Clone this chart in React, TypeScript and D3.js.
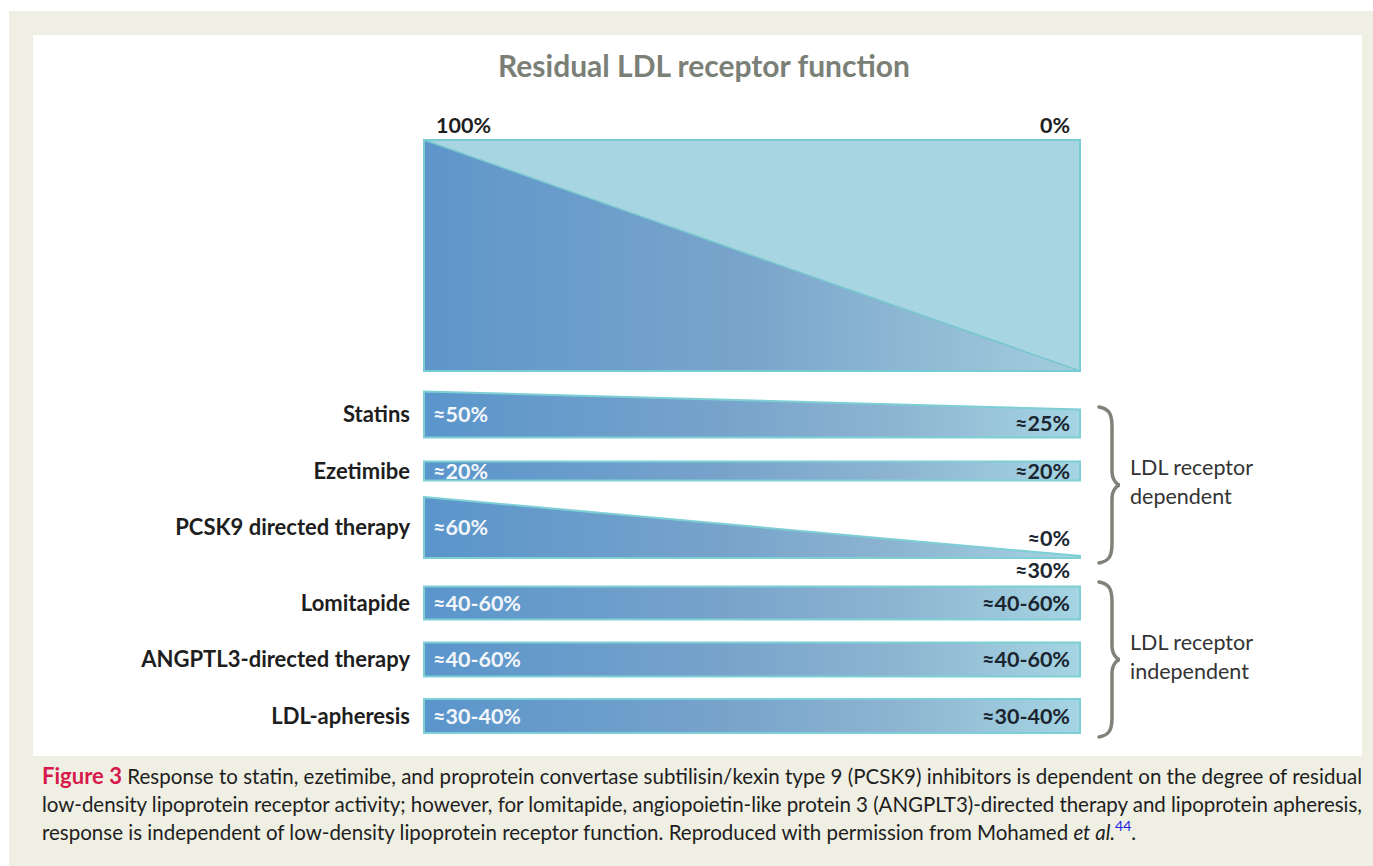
import React from "react";
import * as d3 from "d3";

const therapies = ["Statins", "Ezetimibe", "PCSK9 directed therapy", "Lomitapide", "ANGPTL3-directed therapy", "LDL-apheresis"];
const leftLabels = ["≈50%", "≈20%", "≈60%", "≈40-60%", "≈40-60%", "≈30-40%"];
const rightLabels = ["≈25%", "≈20%", "≈0%", "≈40-60%", "≈40-60%", "≈30-40%"];
const rightSubLabels = ["", "", "≈30%", "", "", ""];
// bar thickness (relative response) at 100% and at 0% residual function
const leftThickness = [46, 19, 61, 33, 34, 34];
const rightThickness = [28, 19, 2, 33, 34, 34];
const groupOf = [0, 0, 0, 1, 1, 1];
const groups = [["LDL receptor", "dependent"], ["LDL receptor", "independent"]];
const axisTicks = [100, 0];

const W = 1373, H = 866;
const FONT = "Lato, 'Open Sans', sans-serif";

export default function App() {
  const x = d3.scaleLinear().domain([100, 0]).range([424, 1080]);
  const th = d3.scaleLinear().domain([0, 61]).range([0, 61]);
  const boxTop = 140, boxBottom = 371;

  const rowCenter = (i: number) => 414.5 + i * 56.5 + (groupOf[i] === 1 ? 19 : 0);

  const rows = therapies.map((name, i) => {
    const c = rowCenter(i);
    const lh = th(leftThickness[i]);
    const rh = th(rightThickness[i]);
    const bottom = c + lh / 2;
    const pts: [number, number][] = [
      [x(100), bottom - lh],
      [x(0), bottom - rh],
      [x(0), bottom],
      [x(100), bottom],
    ];
    return { name, i, c, lh, rh, bottom, pts };
  });

  const line = d3.line();

  const braceTops = [407, 582];
  const braceBottoms = [563, 737];

  const bracePath = (y0: number, y1: number) => {
    const xl = 1099, xm = 1112, xp = 1120;
    const ym = (y0 + y1) / 2;
    const p = d3.path();
    p.moveTo(xl, y0);
    p.bezierCurveTo(xm - 2, y0 + 2, xm, y0 + 8, xm, y0 + 20);
    p.lineTo(xm, ym - 14);
    p.bezierCurveTo(xm, ym - 4, xp - 2, ym, xp, ym);
    p.bezierCurveTo(xp - 2, ym, xm, ym + 4, xm, ym + 14);
    p.lineTo(xm, y1 - 20);
    p.bezierCurveTo(xm, y1 - 8, xm - 2, y1 - 2, xl, y1);
    return p.toString();
  };

  return (
    <svg width={W} height={H} style={{ position: "absolute", left: 0, top: 0 }} fontFamily={FONT}>
      <defs>
        <linearGradient id="barGrad" gradientUnits="userSpaceOnUse" x1={x(100)} x2={x(0)} y1={0} y2={0}>
          <stop offset="0" stopColor="#5a95cb" />
          <stop offset="0.45" stopColor="#77a3cb" />
          <stop offset="0.72" stopColor="#8db4d1" />
          <stop offset="1" stopColor="#a5d5e3" />
        </linearGradient>
        <linearGradient id="triGrad" gradientUnits="userSpaceOnUse" x1={x(100)} x2={x(0)} y1={0} y2={0}>
          <stop offset="0" stopColor="#5e96ca" />
          <stop offset="0.5" stopColor="#7aa5cb" />
          <stop offset="1" stopColor="#a3cddd" />
        </linearGradient>
      </defs>
      <rect x={0} y={0} width={W} height={H} fill="#ffffff" />
      <rect x={9} y={11} width={W - 9} height={H - 11} fill="#efefe3" />
      <rect x={33} y={35} width={1329} height={721} fill="#ffffff" />

      <text x={704} y={77} textAnchor="middle" fontSize={30} fontWeight={700} fill="#7b8077">
        Residual LDL receptor function
      </text>

      {axisTicks.map((t) => (
        <text key={t} x={t === 100 ? x(t) + 12 : x(t) - 10} y={133} textAnchor={t === 100 ? "start" : "end"}
          fontSize={21.5} fontWeight={700} fill="#1e1e1e">
          {t}%
        </text>
      ))}

      <rect x={x(100)} y={boxTop} width={x(0) - x(100)} height={boxBottom - boxTop} fill="#a7d5e2" stroke="#77cbd2" strokeWidth={2} />
      <path d={line([[x(100), boxTop], [x(0), boxBottom], [x(100), boxBottom]])! + "Z"} fill="url(#triGrad)" />
      <path d={line([[x(100), boxTop], [x(0), boxBottom]])!} stroke="#78c6cf" strokeWidth={1.5} fill="none" />
      <rect x={x(100)} y={boxTop} width={x(0) - x(100)} height={boxBottom - boxTop} fill="none" stroke="#77cbd2" strokeWidth={2} />

      {rows.map((r) => (
        <g key={r.name}>
          <path d={line(r.pts)! + "Z"} fill="url(#barGrad)" stroke="#7dcfd5" strokeWidth={2} strokeLinejoin="miter" />
          <text x={410} y={r.c + 7.5} textAnchor="end" fontSize={22} fontWeight={700} fill="#1e1e1e">{r.name}</text>
          <text x={x(100) + 9} y={r.c + 7.5} fontSize={21.5} fontWeight={700} fill="#f3f7fb">{leftLabels[r.i]}</text>
          {r.rh > 12 ? (
            <text x={x(0) - 10} y={r.bottom - r.rh / 2 + 7.5} textAnchor="end" fontSize={21.5} fontWeight={700} fill="#1b2530">{rightLabels[r.i]}</text>
          ) : (
            <>
              <text x={x(0) - 10} y={r.bottom - 12} textAnchor="end" fontSize={21.5} fontWeight={700} fill="#1b2530">{rightLabels[r.i]}</text>
              <text x={x(0) - 10} y={r.bottom + 20} textAnchor="end" fontSize={21.5} fontWeight={700} fill="#1b2530">{rightSubLabels[r.i]}</text>
            </>
          )}
        </g>
      ))}

      {[0, 1].map((g) => (
        <g key={g}>
          <path d={bracePath(braceTops[g], braceBottoms[g])} fill="none" stroke="#7f8279" strokeWidth={3.5} strokeLinecap="round" />
          <text x={1130} y={(braceTops[g] + braceBottoms[g]) / 2 - 10} fontSize={21.5} fill="#333333">{groups[g][0]}</text>
          <text x={1130} y={(braceTops[g] + braceBottoms[g]) / 2 + 19} fontSize={21.5} fill="#333333">{groups[g][1]}</text>
        </g>
      ))}

      <g fontSize={20.5} fill="#1e1e1e">
        <text x={42} y={784} textLength={1320} lengthAdjust="spacing">
          <tspan fill="#d8194b" fontWeight={700} fontSize={22}>Figure 3</tspan>
          <tspan> Response to statin, ezetimibe, and proprotein convertase subtilisin/kexin type 9 (PCSK9) inhibitors is dependent on the degree of residual</tspan>
        </text>
        <text x={42} y={812} textLength={1320} lengthAdjust="spacing">
          low-density lipoprotein receptor activity; however, for lomitapide, angiopoietin-like protein 3 (ANGPLT3)-directed therapy and lipoprotein apheresis,
        </text>
        <text x={42} y={840}>
          <tspan>response is independent of low-density lipoprotein receptor function. Reproduced with permission from Mohamed </tspan>
          <tspan fontStyle="italic">et al.</tspan>
          <tspan fill="#2323e6" fontSize={14} dy={-9}>44</tspan>
          <tspan dy={9}>.</tspan>
        </text>
      </g>
    </svg>
  );
}
